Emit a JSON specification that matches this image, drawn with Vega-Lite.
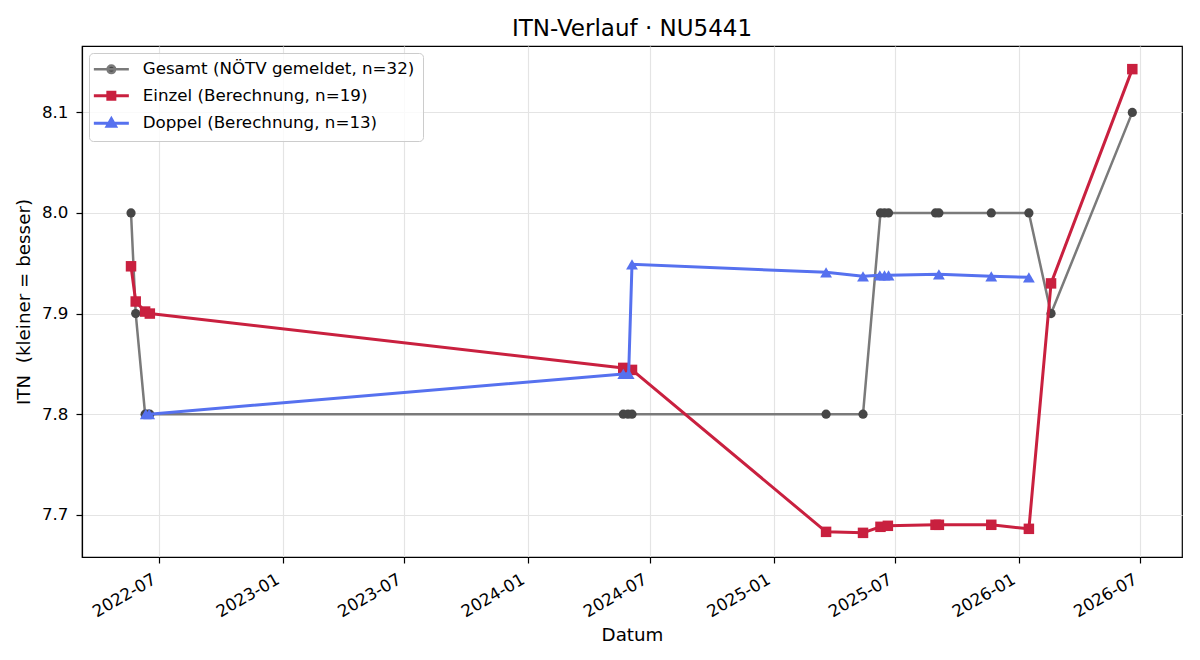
{
  "$schema": "https://vega.github.io/schema/vega-lite/v6.json",
  "width": 1100,
  "height": 511,
  "autosize": {"type": "none"},
  "padding": {"left": 82, "top": 46, "right": 18, "bottom": 103},
  "background": "white",
  "title": {"text": "ITN-Verlauf · NU5441", "fontSize": 23, "fontWeight": "normal", "color": "black", "offset": 5, "anchor": "middle"},
  "config": {
    "font": "DejaVu Sans",
    "view": {"stroke": "black", "strokeWidth": 1.2},
    "axis": {
      "domainColor": "black", "domainWidth": 1.2, "tickColor": "black", "tickWidth": 1.2, "tickSize": 6,
      "labelColor": "black", "labelFontSize": 16.7, "titleColor": "black", "titleFontSize": 18.3, "titleFontWeight": "normal",
      "gridColor": "#e4e4e4", "gridWidth": 1.2
    }
  },
  "data": {"values": [
    {"date": "2022-05-20", "itn": 8.0, "series": "Gesamt (NÖTV gemeldet, n=32)"},
    {"date": "2022-05-27", "itn": 7.9, "series": "Gesamt (NÖTV gemeldet, n=32)"},
    {"date": "2022-06-10", "itn": 7.8, "series": "Gesamt (NÖTV gemeldet, n=32)"},
    {"date": "2022-06-14", "itn": 7.8, "series": "Gesamt (NÖTV gemeldet, n=32)"},
    {"date": "2022-06-17", "itn": 7.8, "series": "Gesamt (NÖTV gemeldet, n=32)"},
    {"date": "2024-05-22", "itn": 7.8, "series": "Gesamt (NÖTV gemeldet, n=32)"},
    {"date": "2024-05-29", "itn": 7.8, "series": "Gesamt (NÖTV gemeldet, n=32)"},
    {"date": "2024-06-04", "itn": 7.8, "series": "Gesamt (NÖTV gemeldet, n=32)"},
    {"date": "2025-03-20", "itn": 7.8, "series": "Gesamt (NÖTV gemeldet, n=32)"},
    {"date": "2025-05-14", "itn": 7.8, "series": "Gesamt (NÖTV gemeldet, n=32)"},
    {"date": "2025-06-09", "itn": 8.0, "series": "Gesamt (NÖTV gemeldet, n=32)"},
    {"date": "2025-06-15", "itn": 8.0, "series": "Gesamt (NÖTV gemeldet, n=32)"},
    {"date": "2025-06-21", "itn": 8.0, "series": "Gesamt (NÖTV gemeldet, n=32)"},
    {"date": "2025-08-30", "itn": 8.0, "series": "Gesamt (NÖTV gemeldet, n=32)"},
    {"date": "2025-09-04", "itn": 8.0, "series": "Gesamt (NÖTV gemeldet, n=32)"},
    {"date": "2025-11-21", "itn": 8.0, "series": "Gesamt (NÖTV gemeldet, n=32)"},
    {"date": "2026-01-16", "itn": 8.0, "series": "Gesamt (NÖTV gemeldet, n=32)"},
    {"date": "2026-02-18", "itn": 7.9, "series": "Gesamt (NÖTV gemeldet, n=32)"},
    {"date": "2026-06-19", "itn": 8.1, "series": "Gesamt (NÖTV gemeldet, n=32)"},

    {"date": "2022-05-20", "itn": 7.947, "series": "Einzel (Berechnung, n=19)"},
    {"date": "2022-05-27", "itn": 7.912, "series": "Einzel (Berechnung, n=19)"},
    {"date": "2022-06-10", "itn": 7.902, "series": "Einzel (Berechnung, n=19)"},
    {"date": "2022-06-17", "itn": 7.900, "series": "Einzel (Berechnung, n=19)"},
    {"date": "2024-05-22", "itn": 7.846, "series": "Einzel (Berechnung, n=19)"},
    {"date": "2024-06-04", "itn": 7.844, "series": "Einzel (Berechnung, n=19)"},
    {"date": "2025-03-20", "itn": 7.683, "series": "Einzel (Berechnung, n=19)"},
    {"date": "2025-05-14", "itn": 7.682, "series": "Einzel (Berechnung, n=19)"},
    {"date": "2025-06-09", "itn": 7.688, "series": "Einzel (Berechnung, n=19)"},
    {"date": "2025-06-20", "itn": 7.689, "series": "Einzel (Berechnung, n=19)"},
    {"date": "2025-08-30", "itn": 7.690, "series": "Einzel (Berechnung, n=19)"},
    {"date": "2025-09-04", "itn": 7.690, "series": "Einzel (Berechnung, n=19)"},
    {"date": "2025-11-21", "itn": 7.690, "series": "Einzel (Berechnung, n=19)"},
    {"date": "2026-01-16", "itn": 7.686, "series": "Einzel (Berechnung, n=19)"},
    {"date": "2026-02-18", "itn": 7.930, "series": "Einzel (Berechnung, n=19)"},
    {"date": "2026-06-19", "itn": 8.143, "series": "Einzel (Berechnung, n=19)"},

    {"date": "2022-06-11", "itn": 7.800, "series": "Doppel (Berechnung, n=13)"},
    {"date": "2022-06-16", "itn": 7.800, "series": "Doppel (Berechnung, n=13)"},
    {"date": "2024-05-22", "itn": 7.840, "series": "Doppel (Berechnung, n=13)"},
    {"date": "2024-05-30", "itn": 7.840, "series": "Doppel (Berechnung, n=13)"},
    {"date": "2024-06-04", "itn": 7.949, "series": "Doppel (Berechnung, n=13)"},
    {"date": "2025-03-20", "itn": 7.941, "series": "Doppel (Berechnung, n=13)"},
    {"date": "2025-05-14", "itn": 7.937, "series": "Doppel (Berechnung, n=13)"},
    {"date": "2025-06-08", "itn": 7.938, "series": "Doppel (Berechnung, n=13)"},
    {"date": "2025-06-15", "itn": 7.938, "series": "Doppel (Berechnung, n=13)"},
    {"date": "2025-06-21", "itn": 7.938, "series": "Doppel (Berechnung, n=13)"},
    {"date": "2025-09-04", "itn": 7.939, "series": "Doppel (Berechnung, n=13)"},
    {"date": "2025-11-21", "itn": 7.937, "series": "Doppel (Berechnung, n=13)"},
    {"date": "2026-01-16", "itn": 7.936, "series": "Doppel (Berechnung, n=13)"}
  ]},
  "encoding": {
    "x": {
      "field": "date", "type": "temporal",
      "scale": {"type": "utc", "domain": [{"year": 2022, "month": 3, "date": 8, "utc": true}, {"year": 2026, "month": 9, "date": 1, "utc": true}]},
      "axis": {
        "title": "Datum", "labelExpr": "utcFormat(datum.value, '%Y-%m')", "labelAngle": -30, "labelAlign": "right", "labelBaseline": "top", "labelPadding": 8, "labelOffset": -9, "titlePadding": 6,
        "values": [
          {"year": 2022, "month": 7, "date": 1, "utc": true},
          {"year": 2023, "month": 1, "date": 1, "utc": true},
          {"year": 2023, "month": 7, "date": 1, "utc": true},
          {"year": 2024, "month": 1, "date": 1, "utc": true},
          {"year": 2024, "month": 7, "date": 1, "utc": true},
          {"year": 2025, "month": 1, "date": 1, "utc": true},
          {"year": 2025, "month": 7, "date": 1, "utc": true},
          {"year": 2026, "month": 1, "date": 1, "utc": true},
          {"year": 2026, "month": 7, "date": 1, "utc": true}
        ]
      }
    },
    "y": {
      "field": "itn", "type": "quantitative",
      "scale": {"domain": [7.658, 8.166], "zero": false, "nice": false},
      "axis": {"title": "ITN\u00a0 (kleiner = besser)", "values": [7.7, 7.8, 7.9, 8.0, 8.1], "format": ".1f", "labelPadding": 8, "titlePadding": 8}
    }
  },
  "layer": [
    {
      "transform": [{"filter": "datum.series === 'Gesamt (NÖTV gemeldet, n=32)'"}],
      "mark": {"type": "line", "strokeWidth": 2.5},
      "encoding": {
        "color": {
          "field": "series", "type": "nominal",
          "scale": {"domain": ["Gesamt (NÖTV gemeldet, n=32)", "Einzel (Berechnung, n=19)", "Doppel (Berechnung, n=13)"], "range": ["#7a7a7a", "#c9203f", "#5671ef"]},
          "legend": {
            "orient": "top-left", "offset": 7, "title": null, "padding": 8,
            "fillColor": "rgba(255,255,255,0.8)", "strokeColor": "#cccccc", "cornerRadius": 4,
            "labelFontSize": 16.7, "labelColor": "black", "labelBaseline": "middle", "labelLimit": 500,
            "symbolSize": 100, "symbolOffset": 6, "labelOffset": 23, "rowPadding": 6.5,
            "encode": {"symbols": {"update": {
              "shape": {"signal": "datum.value === 'Gesamt (NÖTV gemeldet, n=32)' ? 'M-3.5,0H3.5M0.75,0A0.75,0.75,0,1,1,-0.75,0A0.75,0.75,0,1,1,0.75,0Z' : (datum.value === 'Einzel (Berechnung, n=19)' ? 'M-3.5,0H3.5M-0.7,-0.7H0.7V0.7H-0.7Z' : 'M-3.5,0H3.5M0,-0.9L0.85,0.6L-0.85,0.6Z')"},
              "stroke": {"signal": "scale('color', datum.value)"},
              "fill": {"signal": "scale('fill', datum.value)"},
              "strokeWidth": {"signal": "datum.value === 'Gesamt (NÖTV gemeldet, n=32)' ? 2.5 : 3"},
              "opacity": {"value": 1}
            }}}
          }
        }
      }
    },
    {
      "transform": [{"filter": "datum.series === 'Gesamt (NÖTV gemeldet, n=32)'"}],
      "mark": {"type": "point", "filled": true, "shape": "circle", "size": 85, "opacity": 1},
      "encoding": {
        "fill": {"field": "series", "type": "nominal", "legend": null,
          "scale": {"domain": ["Gesamt (NÖTV gemeldet, n=32)", "Einzel (Berechnung, n=19)", "Doppel (Berechnung, n=13)"], "range": ["#464646", "#c9203f", "#5671ef"]}}
      }
    },
    {
      "transform": [{"filter": "datum.series === 'Einzel (Berechnung, n=19)'"}],
      "mark": {"type": "line", "strokeWidth": 3},
      "encoding": {
        "color": {"field": "series", "type": "nominal",
          "scale": {"domain": ["Gesamt (NÖTV gemeldet, n=32)", "Einzel (Berechnung, n=19)", "Doppel (Berechnung, n=13)"], "range": ["#7a7a7a", "#c9203f", "#5671ef"]}}
      }
    },
    {
      "transform": [{"filter": "datum.series === 'Einzel (Berechnung, n=19)'"}],
      "mark": {"type": "point", "filled": true, "shape": "square", "size": 110, "opacity": 1},
      "encoding": {
        "fill": {"field": "series", "type": "nominal", "legend": null,
          "scale": {"domain": ["Gesamt (NÖTV gemeldet, n=32)", "Einzel (Berechnung, n=19)", "Doppel (Berechnung, n=13)"], "range": ["#464646", "#c9203f", "#5671ef"]}}
      }
    },
    {
      "transform": [{"filter": "datum.series === 'Doppel (Berechnung, n=13)'"}],
      "mark": {"type": "line", "strokeWidth": 3},
      "encoding": {
        "color": {"field": "series", "type": "nominal",
          "scale": {"domain": ["Gesamt (NÖTV gemeldet, n=32)", "Einzel (Berechnung, n=19)", "Doppel (Berechnung, n=13)"], "range": ["#7a7a7a", "#c9203f", "#5671ef"]}}
      }
    },
    {
      "transform": [{"filter": "datum.series === 'Doppel (Berechnung, n=13)'"}],
      "mark": {"type": "point", "filled": true, "shape": "triangle-up", "size": 140, "opacity": 1},
      "encoding": {
        "fill": {"field": "series", "type": "nominal", "legend": null,
          "scale": {"domain": ["Gesamt (NÖTV gemeldet, n=32)", "Einzel (Berechnung, n=19)", "Doppel (Berechnung, n=13)"], "range": ["#464646", "#c9203f", "#5671ef"]}}
      }
    }
  ]
}
